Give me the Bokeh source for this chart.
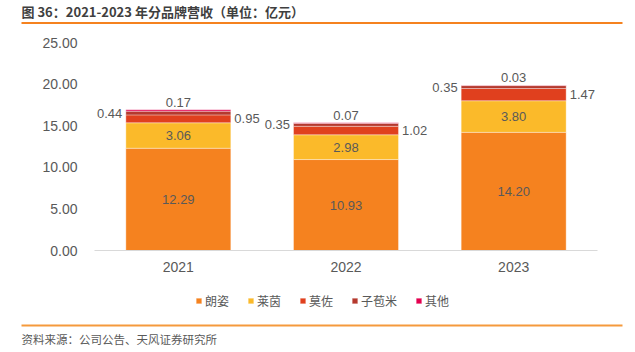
from bokeh.plotting import figure
from bokeh.models import (ColumnDataSource, Label, BoxAnnotation, NumeralTickFormatter,
                          FixedTicker, Legend)
from bokeh.core.properties import value
from bokeh.embed import file_html
from bokeh.resources import INLINE

years = ["2021", "2022", "2023"]
brands = ["朗姿", "莱茵", "莫佐", "子苞米", "其他"]
langzi = [12.29, 10.93, 14.20]
laiyin = [3.06, 2.98, 3.80]
mozuo = [0.95, 1.02, 1.47]
zibaomi = [0.44, 0.35, 0.35]
other = [0.17, 0.07, 0.03]
y_ticks = [0, 5, 10, 15, 20, 25]
colors = ["#F5821F", "#FBBA2A", "#E0401E", "#B5392E", "#E4004F"]

title_text = "图 36：2021-2023 年分品牌营收（单位：亿元）"
source_text = "资料来源：公司公告、天风证券研究所"

CJK = "Noto Sans CJK SC"
NUM = "Liberation Sans"
GREY = "#595959"
W, H = 635, 352

# geometry of the plotting area inside the canvas (pixels)
PX_LEFT, PX_RIGHT, PX_TOP, PX_BOTTOM = 94, 597, 42, 250
n = len(years)
step = (PX_RIGHT - PX_LEFT) / n          # pixels per category
c0 = PX_LEFT + step / 2                  # pixel centre of first category
ymax = y_ticks[-1]
ppu = (PX_BOTTOM - PX_TOP) / ymax        # pixels per value unit
x_start, x_end = -c0 / step, (W - c0) / step
y_start, y_end = -(H - PX_BOTTOM) / ppu, ymax + PX_TOP / ppu

pos = list(range(n))
src = ColumnDataSource(dict(pos=pos, 朗姿=langzi, 莱茵=laiyin, 莫佐=mozuo,
                            子苞米=zibaomi, 其他=other))

p = figure(x_range=(x_start, x_end), y_range=(y_start, y_end),
           width=W, height=H, output_backend="svg", toolbar_location=None,
           min_border=0)
p.outline_line_color = None
p.xgrid.grid_line_color = None
p.ygrid.grid_line_color = None

rs = p.vbar_stack(brands, x="pos", width=0.626, source=src, color=colors,
                  line_color="white", line_alpha=0.45, line_width=0.8)


def cum(i):
    series = [langzi, laiyin, mozuo, zibaomi, other]
    return [sum(s[k] for s in series[:i]) for k in range(n)]


inner_x, inner_y, inner_t = [], [], []
for i, s in enumerate([langzi, laiyin]):
    base = cum(i)
    for k in range(n):
        inner_x.append(pos[k])
        inner_y.append(base[k] + s[k] / 2)
        inner_t.append(f"{s[k]:.2f}")
p.text(x=inner_x, y=inner_y, text=inner_t, text_align="center", text_baseline="middle",
       text_font=value(NUM), text_font_size="13px", text_color=GREY)

b2 = cum(2)
p.text(x=pos, y=[b2[k] + mozuo[k] / 2 for k in range(n)],
       text=[f"{v:.2f}" for v in mozuo], x_offset=56, text_align="left",
       text_baseline="middle", text_font=value(NUM), text_font_size="13px", text_color=GREY)
b3 = cum(3)
p.text(x=pos, y=[b3[k] + zibaomi[k] / 2 for k in range(n)],
       text=[f"{v:.2f}" for v in zibaomi], x_offset=-56, text_align="right",
       text_baseline="middle", text_font=value(NUM), text_font_size="13px", text_color=GREY)
b5 = cum(5)
p.text(x=pos, y=b5, text=[f"{v:.2f}" for v in other], y_offset=-3,
       text_align="center", text_baseline="bottom",
       text_font=value(NUM), text_font_size="13px", text_color=GREY)

# y axis drawn at the left edge of the first category band
p.yaxis.fixed_location = -0.5
p.yaxis.ticker = FixedTicker(ticks=y_ticks)
p.yaxis.formatter = NumeralTickFormatter(format="0.00")
p.yaxis.axis_line_color = None
p.yaxis.major_tick_line_color = None
p.yaxis.minor_tick_line_color = None
p.yaxis.major_tick_out = 0
p.yaxis.major_tick_in = 0
p.yaxis.major_label_standoff = 17
p.yaxis.major_label_text_font = NUM
p.yaxis.major_label_text_font_size = "14px"
p.yaxis.major_label_text_color = GREY

# x axis drawn at value 0
p.xaxis.fixed_location = 0
p.xaxis.bounds = (-0.5, n - 0.5)
p.xaxis.ticker = FixedTicker(ticks=pos)
p.xaxis.major_label_overrides = {k: years[k] for k in pos}
p.xaxis.axis_line_color = "#D9D9D9"
p.xaxis.axis_line_width = 1
p.xaxis.major_tick_line_color = None
p.xaxis.minor_tick_line_color = None
p.xaxis.major_tick_out = 0
p.xaxis.major_tick_in = 0
p.xaxis.major_label_standoff = 11
p.xaxis.major_label_text_font = NUM
p.xaxis.major_label_text_font_size = "14px"
p.xaxis.major_label_text_color = GREY

lg = Legend(items=[(b, [r]) for b, r in zip(brands, rs)], orientation="horizontal",
            location=(195, H - 310), glyph_width=7, glyph_height=7, label_standoff=3,
            spacing=18, padding=0, margin=0, border_line_alpha=0,
            background_fill_alpha=0, label_text_font=CJK, label_text_font_size="12px",
            label_text_color=GREY, label_height=20)
p.add_layout(lg)

# title, rules and source (screen units, y measured from the bottom)
p.add_layout(Label(x=21, y=H - 11, x_units="screen", y_units="screen", text=title_text,
                   text_font=CJK, text_font_size="13px", text_font_style="bold",
                   text_color="#3F3F3F", text_baseline="middle"))
p.add_layout(BoxAnnotation(left=21, right=622, bottom=H - 23.5, top=H - 21.5,
                           left_units="screen", right_units="screen",
                           bottom_units="screen", top_units="screen",
                           fill_color="#F5821F", fill_alpha=1, line_alpha=0))
p.add_layout(BoxAnnotation(left=21, right=622, bottom=H - 326, top=H - 324,
                           left_units="screen", right_units="screen",
                           bottom_units="screen", top_units="screen",
                           fill_color="#F59A3C", fill_alpha=1, line_alpha=0))
p.add_layout(Label(x=21, y=H - 338, x_units="screen", y_units="screen", text=source_text,
                   text_font=CJK, text_font_size="11.5px",
                   text_color=GREY, text_baseline="middle"))

open("out.html", "w").write(file_html(p, INLINE))
